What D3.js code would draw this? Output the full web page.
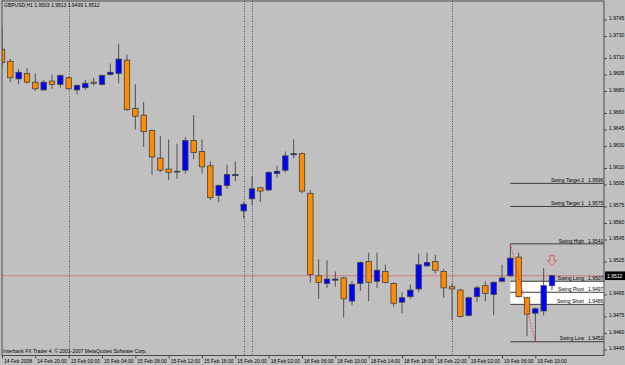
<!DOCTYPE html>
<html>
<head>
<meta charset="utf-8">
<script src="https://cdn.jsdelivr.net/npm/d3@7"></script>
<style>
  body { margin: 0; background: #c0c0c0; }
  svg { display: block; font-family: "Liberation Sans", Arial, sans-serif; }
</style>
</head>
<body>
<svg id="chart" width="625" height="365"></svg>
<script>
// GBPUSD H1 bars, 14 Feb 16:00 .. 19 Feb 12:00
var times = [
  "14 Feb 16:00","14 Feb 17:00","14 Feb 18:00","14 Feb 19:00","14 Feb 20:00","14 Feb 21:00","14 Feb 22:00","14 Feb 23:00",
  "15 Feb 00:00","15 Feb 01:00","15 Feb 02:00","15 Feb 03:00","15 Feb 04:00","15 Feb 05:00","15 Feb 06:00","15 Feb 07:00",
  "15 Feb 08:00","15 Feb 09:00","15 Feb 10:00","15 Feb 11:00","15 Feb 12:00","15 Feb 13:00","15 Feb 14:00","15 Feb 15:00",
  "15 Feb 16:00","15 Feb 17:00","15 Feb 18:00","15 Feb 19:00","15 Feb 20:00",
  "17 Feb 23:00",
  "18 Feb 00:00","18 Feb 01:00","18 Feb 02:00","18 Feb 03:00","18 Feb 04:00","18 Feb 05:00","18 Feb 06:00","18 Feb 07:00",
  "18 Feb 08:00","18 Feb 09:00","18 Feb 10:00","18 Feb 11:00","18 Feb 12:00","18 Feb 13:00","18 Feb 14:00","18 Feb 15:00",
  "18 Feb 16:00","18 Feb 17:00","18 Feb 18:00","18 Feb 19:00","18 Feb 20:00","18 Feb 21:00","18 Feb 22:00","18 Feb 23:00",
  "19 Feb 00:00","19 Feb 01:00","19 Feb 02:00","19 Feb 03:00","19 Feb 04:00","19 Feb 05:00","19 Feb 06:00","19 Feb 07:00",
  "19 Feb 08:00","19 Feb 09:00","19 Feb 10:00","19 Feb 11:00","19 Feb 12:00"
];

var open = [1.9718,1.9707,1.9691,1.9696,1.9688,1.9681,1.9689,1.9686,1.9692,1.9681,
            1.9683,1.9688,1.9686,1.9695,1.9696,1.9708,1.9664,1.9658,1.9644,1.9619,
            1.9609,1.9607,1.9608,1.9635,1.9625,1.9612,1.9585,1.9594,1.9603,1.9571,
            1.9582,1.9592,1.9590,1.9605,1.9608,1.9622,1.9623,1.9587,1.9512,1.9505,
            1.9508,1.9510,1.9489,1.9505,1.9525,1.9507,1.9516,1.9505,1.9488,1.9493,
            1.9500,1.9521,1.9525,1.9516,1.9502,1.9499,1.9476,1.9493,1.9503,1.9495,
            1.9507,1.9512,1.9529,1.9492,1.9478,1.9480,1.9503];
var high = [1.9738,1.9709,1.9700,1.9701,1.9696,1.9690,1.9695,1.9695,1.9693,1.9686,
            1.9690,1.9692,1.9695,1.9705,1.9723,1.9713,1.9686,1.9670,1.9645,1.9639,
            1.9636,1.9632,1.9638,1.9658,1.9636,1.9616,1.9595,1.9613,1.9616,1.9579,
            1.9602,1.9593,1.9607,1.9612,1.9625,1.9636,1.9624,1.9590,1.9527,1.9526,
            1.9516,1.9511,1.9507,1.9525,1.9533,1.9533,1.9522,1.9506,1.9497,1.9504,
            1.9532,1.9533,1.9531,1.9518,1.9505,1.9500,1.9493,1.9503,1.9507,1.9507,
            1.9522,1.9541,1.9533,1.9493,1.9483,1.9519,1.9513];
var low  = [1.9701,1.9688,1.9686,1.9687,1.9680,1.9680,1.9682,1.9683,1.9681,1.9677,
            1.9681,1.9685,1.9685,1.9694,1.9687,1.9662,1.9645,1.9629,1.9604,1.9606,
            1.9599,1.9600,1.9605,1.9618,1.9605,1.9581,1.9579,1.9591,1.9598,1.9564,
            1.9576,1.9579,1.9589,1.9601,1.9606,1.9619,1.9587,1.9506,1.9491,1.9501,
            1.9502,1.9474,1.9485,1.9498,1.9489,1.9501,1.9505,1.9484,1.9478,1.9491,
            1.9497,1.9520,1.9514,1.9492,1.9472,1.9474,1.9475,1.9488,1.9489,1.9476,
            1.9506,1.9511,1.9492,1.9457,1.9452,1.9476,1.9499];
var close = [1.9706,1.9692,1.9697,1.9688,1.9682,1.9688,1.9686,1.9694,1.9682,1.9685,
             1.9687,1.9687,1.9694,1.9697,1.9709,1.9663,1.9657,1.9643,1.9620,1.9608,
             1.9606,1.9607,1.9635,1.9624,1.9611,1.9583,1.9594,1.9604,1.9604,1.9577,
             1.9591,1.9589,1.9606,1.9607,1.9621,1.9623,1.9589,1.9513,1.9506,1.9509,
             1.9509,1.9491,1.9504,1.9524,1.9506,1.9517,1.9506,1.9487,1.9492,1.9499,
             1.9522,1.9524,1.9517,1.9501,1.9500,1.9475,1.9492,1.9501,1.9496,1.9506,
             1.9510,1.9528,1.9493,1.9477,1.9482,1.9503,1.9512];

var tickTimes = ["14 Feb 16:00","14 Feb 20:00","15 Feb 00:00","15 Feb 04:00","15 Feb 08:00","15 Feb 12:00",
                 "15 Feb 16:00","15 Feb 20:00","18 Feb 02:00","18 Feb 06:00","18 Feb 10:00","18 Feb 14:00",
                 "18 Feb 18:00","18 Feb 22:00","19 Feb 02:00","19 Feb 06:00","19 Feb 10:00"];
var tickLabels = ["14 Feb 2008","14 Feb 20:00","15 Feb 00:00","15 Feb 04:00","15 Feb 08:00","15 Feb 12:00",
                  "15 Feb 16:00","15 Feb 20:00","18 Feb 02:00","18 Feb 06:00","18 Feb 10:00","18 Feb 14:00",
                  "18 Feb 18:00","18 Feb 22:00","19 Feb 02:00","19 Feb 06:00","19 Feb 10:00"];
var priceTicks = [1.9745,1.9730,1.9710,1.9695,1.9680,1.9660,1.9645,1.9630,1.9610,1.9595,
                  1.9575,1.9560,1.9545,1.9525,1.9495,1.9475,1.9460,1.9445];
var separators = ["15 Feb 00:00","17 Feb 23:00","18 Feb 00:00","19 Feb 00:00"];

var swingNames  = ["Swing Target 2","Swing Target 1","Swing High","Swing Long","Swing Pivot","Swing Short","Swing Low"];
var swingValues = [1.9596,1.9575,1.9541,1.9507,1.9497,1.9486,1.9452];
var swingHighBar = "19 Feb 07:00", swingLowBar = "19 Feb 10:00";
var bid = 1.9512;
var title = "GBPUSD,H1 1.9503 1.9513 1.9499 1.9512";

(function drawChart() {
    var svg = d3.select("#chart"),
        left = 2, right = 604, top = 1, bottom = 355.5;

    var x = d3.scalePoint().domain(times).range([2, 552]);
    var y = d3.scaleLinear().domain([1.94395, 1.97618]).range([bottom, top]);

    svg.append("rect").attr("width", 625).attr("height", 365).attr("fill", "#c0c0c0");

    svg.append("clipPath").attr("id", "plot")
       .append("rect").attr("x", left).attr("y", top).attr("width", right - left).attr("height", bottom - top);

    var g = svg.append("g").attr("clip-path", "url(#plot)");

    // white box between swing long and swing short
    var x0 = x(swingHighBar);
    g.append("rect")
     .attr("x", x0).attr("y", y(swingValues[3]))
     .attr("width", right - x0).attr("height", y(swingValues[5]) - y(swingValues[3]))
     .attr("fill", "#ffffff");

    // day separators
    g.selectAll(".sep").data(separators).enter().append("line")
     .attr("x1", function(d) { return Math.round(x(d)) + 0.5; })
     .attr("x2", function(d) { return Math.round(x(d)) + 0.5; })
     .attr("y1", top).attr("y2", bottom)
     .attr("stroke", "#505050").attr("stroke-dasharray", "1,1.5");

    // bid line
    g.append("line")
     .attr("x1", left).attr("x2", right)
     .attr("y1", y(bid)).attr("y2", y(bid))
     .attr("stroke", "#d87878").attr("stroke-width", 1);

    // swing level lines
    g.selectAll(".lvl").data(swingValues).enter().append("line")
     .attr("x1", x0).attr("x2", right)
     .attr("y1", function(d) { return y(d); })
     .attr("y2", function(d) { return y(d); })
     .attr("stroke", "#3a3a3a").attr("stroke-width", 1);

    // candles
    var bar = g.selectAll(".bar").data(times).enter().append("g");

    bar.append("line")
       .attr("x1", function(d) { return x(d); })
       .attr("x2", function(d) { return x(d); })
       .attr("y1", function(d, i) { return y(high[i]); })
       .attr("y2", function(d, i) { return y(low[i]); })
       .attr("stroke", "#505050").attr("stroke-width", 1);

    bar.append("rect")
       .attr("x", function(d) { return x(d) - 2.7; })
       .attr("width", 5.4)
       .attr("y", function(d, i) { return y(Math.max(open[i], close[i])); })
       .attr("height", function(d, i) { return Math.max(0.8, Math.abs(y(open[i]) - y(close[i]))); })
       .attr("fill", function(d, i) {
           if (close[i] > open[i]) return "#0000ff";
           if (close[i] < open[i]) return "#ff8c00";
           return "#404040";
       })
       .attr("stroke", "#404040").attr("stroke-width", 0.8);

    // zigzag from swing high to swing low
    g.append("line")
     .attr("x1", x(swingHighBar)).attr("y1", y(swingValues[2]))
     .attr("x2", x(swingLowBar)).attr("y2", y(swingValues[6]))
     .attr("stroke", "#ff3030").attr("stroke-width", 1).attr("stroke-dasharray", "1.5,1.5");

    // down arrow over last bar
    var ax = x(times[times.length - 1]), ay = y(high[high.length - 1]) - 19;
    g.append("path")
     .attr("d", "M" + (ax - 2.2) + "," + ay + "h4.4v5h2.2l-4.4,5l-4.4,-5h2.2z")
     .attr("fill", "none").attr("stroke", "#e05050").attr("stroke-width", 0.9);

    // level labels
    var lbl = g.selectAll(".lbl").data(swingValues).enter().append("g")
               .attr("transform", function(d) { return "translate(0," + (y(d) - 1.3) + ")"; })
               .style("font-size", "5px");
    lbl.append("text").attr("x", 584).attr("text-anchor", "end")
       .text(function(d, i) { return swingNames[i]; });
    lbl.append("text").attr("x", 588)
       .text(function(d) { return d.toFixed(4); });

    // frame
    svg.append("rect")
       .attr("x", left).attr("y", top).attr("width", right - left).attr("height", bottom - top)
       .attr("fill", "none").attr("stroke", "#4a4a4a").attr("stroke-width", 1);

    // price axis
    var yAxis = svg.append("g")
       .attr("transform", "translate(" + right + ",0)")
       .call(d3.axisRight(y).tickValues(priceTicks).tickFormat(d3.format(".4f")).tickSize(3).tickPadding(2));
    yAxis.select(".domain").remove();
    yAxis.selectAll("line").attr("stroke", "#4a4a4a");
    yAxis.selectAll("text").style("font-size", "5px").style("font-family", "Liberation Sans, Arial, sans-serif")
         .attr("dy", "0.1em").attr("fill", "#000");

    // bid box
    svg.append("rect").attr("x", 605).attr("y", y(bid) - 4.3).attr("width", 20).attr("height", 8.6).attr("fill", "#000");
    svg.append("text").attr("x", 607).attr("y", y(bid) + 1.8).attr("fill", "#fff")
       .style("font-size", "5px").text(bid.toFixed(4));

    // time axis
    var xAxis = svg.append("g")
       .attr("transform", "translate(0," + bottom + ")")
       .call(d3.axisBottom(x).tickValues(tickTimes)
               .tickFormat(function(d, i) { return tickLabels[i]; }).tickSize(3).tickPadding(1));
    xAxis.select(".domain").remove();
    xAxis.selectAll("line").attr("stroke", "#4a4a4a");
    xAxis.selectAll("text").attr("text-anchor", "start").attr("dx", "1.5")
         .style("font-size", "5px").style("font-family", "Liberation Sans, Arial, sans-serif").attr("fill", "#000");

    // title and copyright
    svg.append("text").attr("x", 4).attr("y", 7).style("font-size", "5px").text(title);
    svg.append("text").attr("x", 3).attr("y", 353).style("font-size", "5px")
       .text("Interbank FX Trader 4, \u00a9 2001-2007 MetaQuotes Software Corp.");
}());
</script>
</body>
</html>
